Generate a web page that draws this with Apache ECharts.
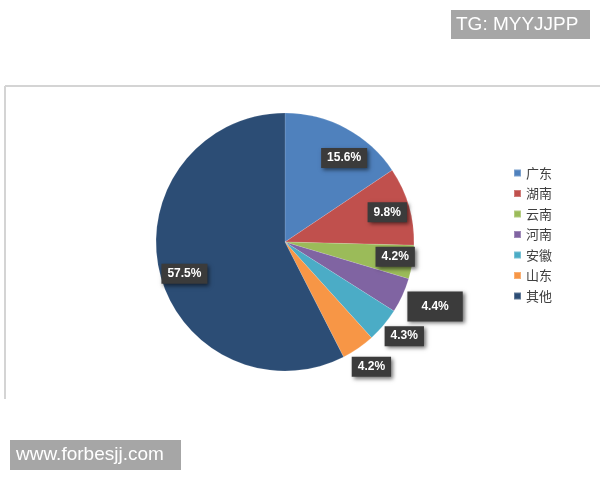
<!DOCTYPE html>
<html>
<head>
<meta charset="utf-8">
<script src="https://cdn.jsdelivr.net/npm/echarts@6/dist/echarts.min.js"></script>
<style>
html,body{margin:0;padding:0;background:#fff;}
#chart{width:600px;height:480px;}
</style>
</head>
<body>
<div id="chart"></div>
<script>
// Data
var categories = ['广东', '湖南', '云南', '河南', '安徽', '山东', '其他'];
var shares = [15.6, 9.8, 4.2, 4.4, 4.3, 4.2, 57.5];
var colors = ['#4F81BD', '#C0504D', '#9BBB59', '#8064A2', '#4BACC6', '#F79646', '#2C4D75'];
// which labels sit outside the pie (others sit inside, near the rim)
var outsideLabel = [false, false, false, true, true, true, false];

var chart = echarts.init(document.getElementById('chart'), null, {renderer: 'canvas'});

var baseLabel = {
  color: '#ffffff',
  fontWeight: 'bold',
  fontSize: 12,
  fontFamily: 'Liberation Sans, Arial, sans-serif',
  backgroundColor: '#3b3b3b',
  padding: [4, 6],
  shadowColor: 'rgba(0,0,0,0.55)',
  shadowBlur: 4,
  shadowOffsetX: 2,
  shadowOffsetY: 2,
  formatter: function (p) { return p.value.toFixed(1) + '%'; }
};

var extraOutside = {
  3: {label: {padding: [9, 14]}, labelLine: {length: 0, length2: 8}},
  4: {label: {}, labelLine: {length: 0, length2: 8}},
  5: {label: {}, labelLine: {length: 8, length2: 0}}
};
// fine nudges of the outside labels (label placement only)
var outsideNudge = {3: [-8, 11], 4: [-12, 11], 5: [-16, 12]};
var extraInside = {
  0: {offset: [9, 10]},
  2: {offset: [5, -2]},
  6: {offset: [3, 7]}
};

var pieData = categories.map(function (name, i) {
  var item = {name: name, value: shares[i], itemStyle: {color: colors[i]}};
  if (outsideLabel[i]) {
    var ex = extraOutside[i];
    item.label = Object.assign({show: true, position: 'outside'}, baseLabel, ex.label);
    item.labelLine = Object.assign({show: false}, ex.labelLine);
  } else {
    item.label = {show: false};
  }
  return item;
});

var ringData = categories.map(function (name, i) {
  var item = {name: name, value: shares[i], itemStyle: {color: 'rgba(0,0,0,0)'}};
  if (!outsideLabel[i]) {
    item.label = Object.assign({show: true, position: 'inside'}, baseLabel, extraInside[i] || {});
  } else {
    item.label = {show: false};
  }
  return item;
});

chart.setOption({
  animation: false,
  backgroundColor: '#ffffff',
  legend: {
    orient: 'vertical',
    left: 508,
    top: 161,
    icon: 'rect',
    itemWidth: 7,
    itemHeight: 7,
    itemGap: 6.5,
    data: categories,
    textStyle: {
      color: '#404040',
      fontSize: 13,
      lineHeight: 14,
      fontFamily: 'Noto Sans CJK SC, sans-serif'
    }
  },
  series: [
    {
      type: 'pie',
      center: [285, 242],
      radius: [0, 129],
      startAngle: 90,
      clockwise: true,
      avoidLabelOverlap: false,
      itemStyle: {borderColor: 'rgba(255,255,255,0.25)', borderWidth: 0.5},
      emphasis: {disabled: true},
      labelLayout: function (p) {
        var n = outsideNudge[p.dataIndex];
        return n ? {dx: n[0], dy: n[1]} : {};
      },
      data: pieData
    },
    {
      type: 'pie',
      center: [285, 242],
      radius: [78, 129],
      startAngle: 90,
      clockwise: true,
      silent: true,
      avoidLabelOverlap: false,
      labelLine: {show: false},
      emphasis: {disabled: true},
      data: ringData
    }
  ],
  graphic: [
    {type: 'line', shape: {x1: 5, y1: 86, x2: 600, y2: 86}, style: {stroke: '#d4d4d4', lineWidth: 2}, silent: true},
    {type: 'line', shape: {x1: 5, y1: 86, x2: 5, y2: 399}, style: {stroke: '#d4d4d4', lineWidth: 2}, silent: true},
    {type: 'rect', shape: {x: 451, y: 10, width: 139, height: 29}, style: {fill: '#a6a6a6'}, silent: true},
    {type: 'text', x: 456, y: 25, style: {text: 'TG: MYYJJPP', fill: '#ffffff', font: '19px Liberation Sans, Arial, sans-serif', verticalAlign: 'middle'}, silent: true},
    {type: 'rect', shape: {x: 10, y: 440, width: 171, height: 30}, style: {fill: '#a6a6a6'}, silent: true},
    {type: 'text', x: 16, y: 455, style: {text: 'www.forbesjj.com', fill: '#ffffff', font: '19px Liberation Sans, Arial, sans-serif', verticalAlign: 'middle'}, silent: true}
  ]
});
</script>
</body>
</html>
